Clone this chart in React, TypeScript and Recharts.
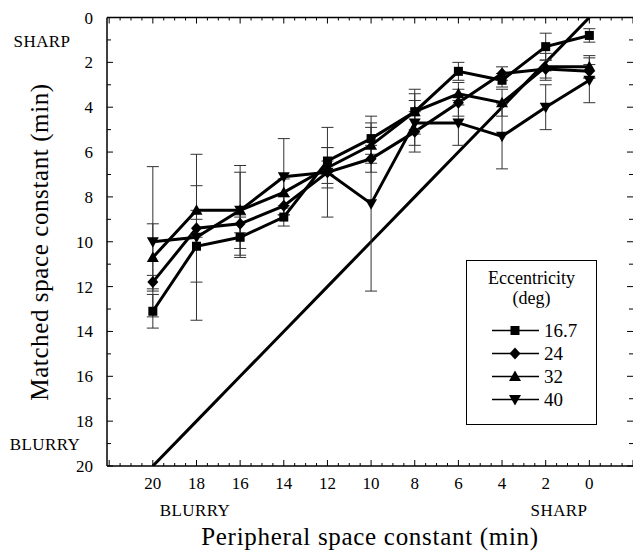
import React from 'react';
import { ComposedChart, Line, XAxis, YAxis, ErrorBar, Legend, Label, ReferenceLine } from 'recharts';

const peripheral = [20, 18, 16, 14, 12, 10, 8, 6, 4, 2, 0];

const ecc167 = [13.1, 10.2, 9.8, 8.9, 6.4, 5.4, 4.2, 2.4, 2.8, 1.3, 0.8];
const ecc24 = [11.8, 9.4, 9.2, 8.4, 6.9, 6.3, 5.1, 3.8, 2.5, 2.3, 2.4];
const ecc32 = [10.7, 8.6, 8.6, 7.8, 6.7, 5.7, 4.2, 3.4, 3.8, 2.2, 2.2];
const ecc40 = [10.0, 9.8, 8.6, 7.1, 6.9, 8.3, 4.7, 4.7, 5.3, 4.0, 2.8];

const err167 = [0.75, 1.6, 0.9, 0.4, 0.6, 0.7, 1.0, 0.4, 0.3, 0.6, 0.3];
const err24 = [0.3, 0.4, 0.4, 0.4, 0.5, 0.6, 0.9, 0.6, 0.3, 0.4, 0.3];
const err32 = [1.5, 1.1, 1.7, 0.6, 0.9, 0.8, 0.8, 0.5, 0.6, 0.6, 0.5];
const err40 = [3.35, 3.7, 2.0, 1.7, 2.0, 3.9, 1.0, 1.0, 1.45, 1.0, 1.0];

// ticks every 0.5 on x, labels on even values only
const xTicks = Array.from({ length: 49 }, (_, i) => 22 - i * 0.5);
const yTicks = Array.from({ length: 21 }, (_, i) => i);

const FONT = '"Liberation Serif", "Times New Roman", serif';
const PLOT_TOP = 17.5;
const PLOT_RIGHT = 633;
const X_MARGIN = 11;
const Y_MARGIN = 14;

const rows = peripheral.map((x, i) => ({
  x,
  s167: ecc167[i],
  s24: ecc24[i],
  s32: ecc32[i],
  s40: ecc40[i],
  e167: err167[i],
  e24: err24[i],
  e32: err32[i],
  e40: err40[i],
  identity: x,
}));

const Square = (p: any) =>
  p.cx == null ? null : <rect x={p.cx - 4.5} y={p.cy - 4.5} width={9} height={9} fill="#000" />;
const Diamond = (p: any) =>
  p.cx == null ? null : (
    <polygon
      points={`${p.cx},${p.cy - 6} ${p.cx + 5.5},${p.cy} ${p.cx},${p.cy + 6} ${p.cx - 5.5},${p.cy}`}
      fill="#000"
    />
  );
const TriUp = (p: any) =>
  p.cx == null ? null : (
    <polygon points={`${p.cx},${p.cy - 6} ${p.cx + 6},${p.cy + 4.5} ${p.cx - 6},${p.cy + 4.5}`} fill="#000" />
  );
const TriDown = (p: any) =>
  p.cx == null ? null : (
    <polygon points={`${p.cx},${p.cy + 6} ${p.cx + 6},${p.cy - 4.5} ${p.cx - 6},${p.cy - 4.5}`} fill="#000" />
  );

const series = [
  { key: 's167', err: 'e167', name: '16.7', shape: Square },
  { key: 's24', err: 'e24', name: '24', shape: Diamond },
  { key: 's32', err: 'e32', name: '32', shape: TriUp },
  { key: 's40', err: 'e40', name: '40', shape: TriDown },
];

// bottom axis tick: label for even values, inward tick marks at bottom and top
const XTick = (p: any) => {
  const v = p.payload.value;
  const cx = p.payload.coordinate ?? p.x;
  const axisY = p.y - X_MARGIN;
  const major = Number.isInteger(v) && v % 2 === 0;
  const len = major ? 6 : 3;
  return (
    <g>
      <line x1={cx} x2={cx} y1={axisY} y2={axisY - len} stroke="#000" strokeWidth={1} />
      <line x1={cx} x2={cx} y1={PLOT_TOP} y2={PLOT_TOP + len} stroke="#000" strokeWidth={1} />
      {major && v >= 0 && v <= 20 && (
        <text x={cx} y={axisY + 23} textAnchor="middle" fontSize={17} fontFamily={FONT} fill="#000">
          {v}
        </text>
      )}
    </g>
  );
};

const YTick = (p: any) => {
  const v = p.payload.value;
  const cy = p.payload.coordinate ?? p.y;
  const axisX = p.x + Y_MARGIN;
  const major = v % 2 === 0;
  const len = major ? 6 : 4;
  return (
    <g>
      <line x1={axisX} x2={axisX + len} y1={cy} y2={cy} stroke="#000" strokeWidth={1} />
      <line x1={PLOT_RIGHT} x2={PLOT_RIGHT - len} y1={cy} y2={cy} stroke="#000" strokeWidth={1} />
      {major && (
        <text x={p.x} y={cy + 6} textAnchor="end" fontSize={17} fontFamily={FONT} fill="#000">
          {v}
        </text>
      )}
    </g>
  );
};

const text = (x: number, y: number, s: string, size: number, anchor = 'middle') => () => (
  <text x={x} y={y} textAnchor={anchor} fontSize={size} fontFamily={FONT} fill="#000" letterSpacing={0.4}>
    {s}
  </text>
);

const LegendBox = () => (
  <div
    style={{
      width: 131,
      height: 165,
      boxSizing: 'border-box',
      border: '1.5px solid #000',
      background: '#fff',
      fontFamily: FONT,
      color: '#000',
    }}
  >
    <div style={{ textAlign: 'center', fontSize: 18, lineHeight: '20px', marginTop: 7 }}>Eccentricity</div>
    <div style={{ textAlign: 'center', fontSize: 18, lineHeight: '21px' }}>(deg)</div>
    <div style={{ marginTop: 10 }}>
      {series.map((s) => {
        const Shape = s.shape;
        return (
          <div key={s.key} style={{ display: 'flex', alignItems: 'center', height: 23 }}>
            <svg width={50} height={23} style={{ marginLeft: 25 }}>
              <line x1={0} y1={11.5} x2={47} y2={11.5} stroke="#000" strokeWidth={1.5} />
              <Shape cx={23} cy={11.5} />
            </svg>
            <span style={{ fontSize: 19, marginLeft: 2 }}>{s.name}</span>
          </div>
        );
      })}
    </div>
  </div>
);

export default function App() {
  return (
    <div style={{ position: 'absolute', left: 0, top: 0, background: '#fff' }}>
      <ComposedChart width={633} height={553} data={rows} margin={{ top: PLOT_TOP, right: 0, bottom: 0, left: 0 }}>
        <XAxis
          dataKey="x"
          type="number"
          domain={[-2, 22.1]}
          reversed
          allowDataOverflow
          ticks={xTicks}
          interval={0}
          height={87}
          tickLine={false}
          tickSize={0}
          tickMargin={X_MARGIN}
          tick={<XTick />}
          axisLine={{ stroke: '#000', strokeWidth: 1.5 }}
        >
          <Label
            content={() => (
              <text x={370} y={545} textAnchor="middle" fontSize={25} letterSpacing={0.7} fontFamily={FONT} fill="#000">
                Peripheral space constant (min)
              </text>
            )}
          />
          <Label content={text(195, 516, 'BLURRY', 17)} />
          <Label content={text(559, 516, 'SHARP', 17)} />
        </XAxis>

        <YAxis
          type="number"
          domain={[0, 20]}
          reversed
          allowDataOverflow
          ticks={yTicks}
          interval={0}
          width={107}
          tickLine={false}
          tickSize={0}
          tickMargin={Y_MARGIN}
          tick={<YTick />}
          axisLine={{ stroke: '#000', strokeWidth: 1.5 }}
        >
          <Label
            content={() => (
              <text
                x={39}
                y={242}
                transform="rotate(-90 39 242)"
                textAnchor="middle"
                dominantBaseline="central"
                fontSize={25}
                letterSpacing={0.6}
                fontFamily={FONT}
                fill="#000"
              >
                Matched space constant (min)
              </text>
            )}
          />
          <Label content={text(42, 47, 'SHARP', 17)} />
          <Label content={text(45, 450, 'BLURRY', 17)} />
        </YAxis>

        <ReferenceLine y={0} stroke="#000" strokeWidth={1.5} />

        <Line
          dataKey="identity"
          stroke="#000"
          strokeWidth={3}
          dot={false}
          activeDot={false}
          isAnimationActive={false}
          legendType="none"
        />
        {series.map((s) => (
          <Line
            key={s.key}
            dataKey={s.key}
            name={s.name}
            stroke="#000"
            strokeWidth={3}
            dot={s.shape}
            activeDot={false}
            isAnimationActive={false}
          >
            <ErrorBar dataKey={s.err} direction="y" width={6} stroke="#333" strokeWidth={1} />
          </Line>
        ))}

        <Legend
          layout="vertical"
          align="center"
          verticalAlign="middle"
          content={() => <LegendBox />}
          wrapperStyle={{ left: 466, top: 260, width: 131 }}
        />
      </ComposedChart>
    </div>
  );
}
